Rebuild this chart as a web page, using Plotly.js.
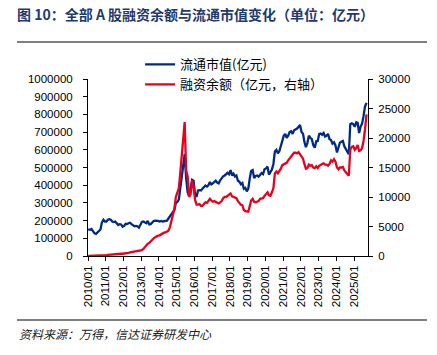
<!DOCTYPE html>
<html><head><meta charset="utf-8">
<script src="https://cdn.plot.ly/plotly-3.0.1.min.js"></script>
<style>html,body{margin:0;padding:0;background:#fff;}#chart{width:437px;height:355px;}</style>
</head><body><div id="chart"></div>
<script>
// Monthly series, 2010/01 .. 2025/09
const startYear = 2010, endYear = 2025, endMonth = 9;
const mktCap = [ // 流通市值 (亿元)
150000,148000,152000,140000,128000,125000,135000,145000,150000,190000,205000,195000,
195000,205000,208000,205000,195000,192000,195000,185000,175000,180000,178000,165000,
170000,182000,180000,185000,188000,180000,172000,168000,170000,168000,160000,180000,
192000,195000,188000,185000,198000,178000,180000,190000,198000,200000,200000,198000,
195000,198000,195000,196000,198000,200000,212000,225000,238000,245000,260000,300000,
305000,320000,380000,460000,520000,575000,440000,360000,335000,390000,430000,425000,
345000,335000,370000,372000,370000,380000,388000,398000,392000,400000,418000,405000,
410000,420000,425000,415000,410000,428000,440000,450000,455000,465000,470000,462000,
485000,455000,465000,450000,455000,425000,420000,405000,412000,380000,385000,365000,
380000,440000,480000,485000,440000,452000,455000,448000,462000,468000,462000,490000,
495000,505000,460000,478000,488000,520000,590000,600000,580000,592000,620000,640000,
680000,690000,668000,680000,700000,705000,690000,710000,715000,720000,730000,740000,
700000,690000,645000,615000,638000,680000,668000,660000,625000,612000,648000,650000,
690000,692000,685000,695000,675000,680000,690000,660000,655000,635000,642000,625000,
585000,620000,640000,645000,650000,620000,608000,590000,575000,745000,750000,745000,
730000,755000,752000,695000,730000,748000,790000,845000,865000];
const marginBal = [ // 融资余额 (亿元)
0,5,10,20,30,45,60,75,90,105,120,130,
160,190,220,260,290,320,340,350,360,370,380,382,
400,430,480,550,620,660,700,750,790,830,860,895,
1000,1200,1500,1800,2100,2200,2500,2800,3000,3200,3400,3450,
3500,3700,3850,3950,4000,4100,4300,4900,5800,6700,8000,10000,
11000,11500,14000,17500,20500,22700,14500,13500,10000,10500,12800,11800,
9500,8700,8700,8800,8500,8500,8800,9100,9000,9300,9700,9400,
9200,9300,9200,9100,8900,9100,9300,9800,10000,10000,10200,10300,
10600,10100,10000,9900,9800,9300,9000,8700,8600,7800,7600,7550,
7500,8500,9400,9700,9200,9100,9200,9300,9700,9700,9800,10200,
10500,10800,10300,10200,10800,11500,14000,14300,14000,14300,14800,15400,
15500,15600,15800,16200,16500,16800,17200,17500,17500,17400,17600,17300,
17000,16500,15600,14800,14900,15500,15300,15400,15000,14900,15200,14900,
15300,15500,15600,15700,15500,15500,15300,15600,16200,16000,16400,16000,
15000,14700,15000,15000,15100,14500,14200,13800,13600,18000,18500,18600,
18000,18300,18800,17800,17900,18300,19500,21500,24000];
const seriesNames = ['流通市值(亿元)', '融资余额（亿元，右轴）'];
const yTicksLeft = [0,100000,200000,300000,400000,500000,600000,700000,800000,900000,1000000];
const yTicksRight = [0,5000,10000,15000,20000,25000,30000];

const dates = [];
for (let y = startYear; y <= endYear; y++) {
  for (let m = 1; m <= 12; m++) {
    if (y === endYear && m > endMonth) break;
    const mm = (m < 10 ? '0' : '') + m;
    dates.push(y === startYear && m === 1 ? '2010-01-04' : `${y}-${mm}-15`);
  }
}
const xTicks = [];
for (let y = startYear; y <= endYear; y++) xTicks.push(`${y}-01-01`);

const tickFont = {family: 'Liberation Sans, Arial, sans-serif', size: 11.5, color: '#000'};
const data = [
  {x: dates, y: mktCap, type: 'scatter', mode: 'lines', name: seriesNames[0],
   line: {color: '#002b85', width: 2.3}, yaxis: 'y'},
  {x: dates, y: marginBal, type: 'scatter', mode: 'lines', name: seriesNames[1],
   line: {color: '#e8001c', width: 2.3}, yaxis: 'y2'}
];
const layout = {
  width: 437, height: 355,
  margin: {l: 88, r: 69, t: 79, b: 99},
  paper_bgcolor: '#fff', plot_bgcolor: '#fff',
  showlegend: true,
  legend: {x: 0.186, xanchor: 'left', y: 1.167, yanchor: 'top', bgcolor: 'rgba(0,0,0,0)',
           font: {family: 'Noto Sans CJK SC', size: 13, color: '#000'}, tracegroupgap: 0},
  title: {text: '<b>图 10：全部 A 股融资余额与流通市值变化（单位：亿元）</b>',
          x: 17/437, xanchor: 'left', xref: 'container', y: 1 - 15/355, yanchor: 'middle', yref: 'container',
          font: {family: 'Noto Sans CJK SC', size: 14, color: '#1f3a6e'}},
  xaxis: {type: 'date', range: ['2010-01-01', '2025-10-15'], tickvals: xTicks, tickformat: '%Y/%m',
          tickangle: -90, showgrid: false, zeroline: false, showline: true, linecolor: '#000', linewidth: 1,
          ticks: 'outside', ticklen: 4, tickcolor: '#000', tickfont: tickFont},
  yaxis: {range: [0, 1000000], tickvals: yTicksLeft, tickformat: 'd', showgrid: false, zeroline: false,
          showline: true, linecolor: '#000', linewidth: 1, ticks: 'outside', ticklen: 4, tickcolor: '#000',
          tickfont: tickFont, ticklabelstandoff: 8},
  yaxis2: {range: [0, 30000], tickvals: yTicksRight, tickformat: 'd', overlaying: 'y', side: 'right',
           showgrid: false, zeroline: false, showline: true, linecolor: '#000', linewidth: 1,
           ticks: 'outside', ticklen: 4, tickcolor: '#000', tickfont: tickFont, ticklabelstandoff: 3},
  shapes: [
    {type: 'line', xref: 'paper', yref: 'paper', x0: (17-88)/280, x1: (427-88)/280, y0: (256-42)/177, y1: (256-42)/177,
     line: {color: '#555', width: 1.5}},
    {type: 'line', xref: 'paper', yref: 'paper', x0: (17-88)/280, x1: (427-88)/280, y0: (256-320)/177, y1: (256-320)/177,
     line: {color: '#555', width: 1.5}}
  ],
  annotations: [
    {text: '<i>资料来源：万得，信达证券研发中心</i>', xref: 'paper', yref: 'paper', x: (17-88)/280, y: (256-333)/177,
     xanchor: 'left', yanchor: 'middle', showarrow: false,
     font: {family: 'Noto Sans CJK SC', size: 12, color: '#222'}}
  ]
};
Plotly.newPlot('chart', data, layout, {displayModeBar: false, staticPlot: true});
</script></body></html>
